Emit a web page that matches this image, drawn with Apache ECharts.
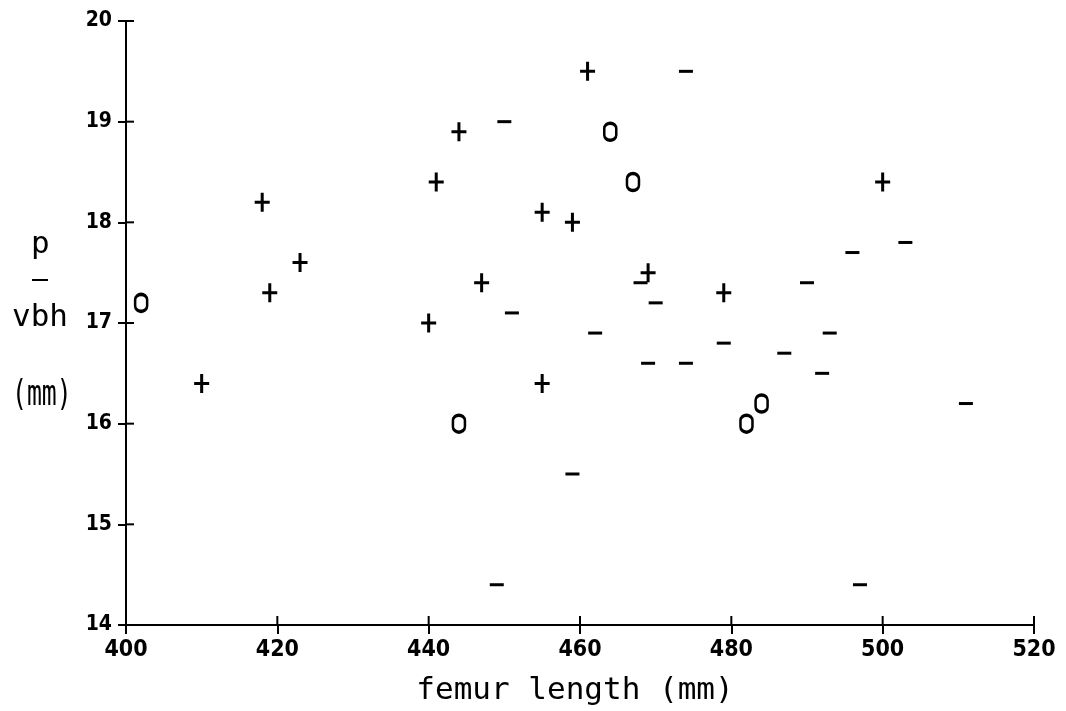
<!DOCTYPE html>
<html>
<head>
<meta charset="utf-8">
<script src="https://cdn.jsdelivr.net/npm/echarts@6/dist/echarts.min.js"></script>
<style>
html,body{margin:0;padding:0;background:#fff;}
#chart{width:1066px;height:711px;}
</style>
</head>
<body>
<div id="chart"></div>
<script>
// femur length (mm) and p/vbh (mm) for the three groups
const plusX  = [461, 444, 418, 441, 455, 459, 423, 419, 447, 440, 469, 479, 500, 410, 455];
const plusY  = [19.5, 18.9, 18.2, 18.4, 18.1, 18.0, 17.6, 17.3, 17.4, 17.0, 17.5, 17.3, 18.4, 16.4, 16.4];
const minusX = [474, 450, 451, 468, 470, 462, 469, 474, 479, 487, 490, 493, 492, 496, 503, 511, 459, 449, 497];
const minusY = [19.5, 19.0, 17.1, 17.4, 17.2, 16.9, 16.6, 16.6, 16.8, 16.7, 17.4, 16.9, 16.5, 17.7, 17.8, 16.2, 15.5, 14.4, 14.4];
const zeroX  = [402, 464, 467, 444, 482, 484];
const zeroY  = [17.2, 18.9, 18.4, 16.0, 16.0, 16.2];

const xTicks = [400, 420, 440, 460, 480, 500, 520];
const yTicks = [14, 15, 16, 17, 18, 19, 20];

const zip = (a, b) => a.map((v, i) => [v, b[i]]);

const tickFont = '"Liberation Sans Narrow", "DejaVu Sans Condensed", "Liberation Sans", sans-serif';
const monoFont = '"DejaVu Sans Mono", "Liberation Mono", monospace';

const chart = echarts.init(document.getElementById('chart'), null, {renderer: 'canvas'});

const xMin = xTicks[0], xMax = xTicks[xTicks.length - 1];
const yMin = yTicks[0], yMax = yTicks[yTicks.length - 1];

// inner halves of the crossing tick marks, drawn through the axes' own scales
function innerTick(dx, dy) {
  return function (params, api) {
    const p = api.coord([api.value(0), api.value(1)]);
    return {
      type: 'line',
      shape: {x1: p[0], y1: p[1], x2: p[0] + dx, y2: p[1] + dy},
      style: {stroke: '#000', lineWidth: 2}
    };
  };
}

chart.setOption({
  animation: false,
  backgroundColor: '#fff',
  grid: {left: 126, right: 32, top: 21, bottom: 86, containLabel: false},
  xAxis: {
    type: 'value', min: xMin, max: xMax, interval: 20,
    splitLine: {show: false},
    axisLine: {show: true, onZero: false, lineStyle: {color: '#000', width: 2}},
    axisTick: {show: true, inside: false, length: 9, lineStyle: {color: '#000', width: 2}},
    axisLabel: {color: '#000', fontFamily: tickFont, fontSize: 23, fontWeight: 'bold', margin: 14},
    name: 'femur length (mm)',
    nameLocation: 'middle',
    nameGap: 50,
    nameTextStyle: {color: '#000', fontFamily: monoFont, fontSize: 31, verticalAlign: 'top', padding: [0, 10, 0, 0]}
  },
  yAxis: {
    type: 'value', min: yMin, max: yMax, interval: 1,
    splitLine: {show: false},
    axisLine: {show: true, onZero: false, lineStyle: {color: '#000', width: 2}},
    axisTick: {show: true, inside: false, length: 8, lineStyle: {color: '#000', width: 2}},
    axisLabel: {color: '#000', fontFamily: tickFont, fontSize: 21, fontWeight: 'bold', margin: 14}
  },
  graphic: [
    {type: 'text', left: 31, top: 229, style: {text: 'p', fill: '#000', font: '31px ' + monoFont}},
    {type: 'line', shape: {x1: 32, y1: 280, x2: 48, y2: 280}, style: {stroke: '#000', lineWidth: 2}},
    {type: 'text', left: 12, top: 302, style: {text: 'vbh', fill: '#000', font: '31px ' + monoFont}},
    {type: 'text', x: 12, y: 378, scaleX: 0.8, scaleY: 1.15, style: {text: '(mm)', fill: '#000', font: '31px ' + monoFont}}
  ],
  series: [
    {
      name: '+', type: 'scatter',
      data: zip(plusX, plusY),
      symbol: 'path://M6,0H9V8H15V11H9V19H6V11H0V8H6Z',
      symbolSize: [15, 19],
      itemStyle: {color: '#000', opacity: 1}
    },
    {
      name: '-', type: 'scatter',
      data: zip(minusX, minusY),
      symbol: 'rect',
      symbolSize: [14, 3],
      itemStyle: {color: '#000', opacity: 1}
    },
    {
      name: 'o', type: 'scatter',
      data: zip(zeroX, zeroY),
      symbol: 'path://M0,5A5,5 0 0 1 10,5V11A5,5 0 0 1 0,11Z',
      symbolSize: [12, 17],
      itemStyle: {color: 'rgba(0,0,0,0)', borderColor: '#000', borderWidth: 3, opacity: 1}
    },
    {
      type: 'custom', silent: true, clip: false, z: 5,
      data: xTicks.map(t => [t, yMin]),
      renderItem: innerTick(0, -9)
    },
    {
      type: 'custom', silent: true, clip: false, z: 5,
      data: yTicks.map(t => [xMin, t]),
      renderItem: innerTick(8, 0)
    }
  ]
});
</script>
</body>
</html>
